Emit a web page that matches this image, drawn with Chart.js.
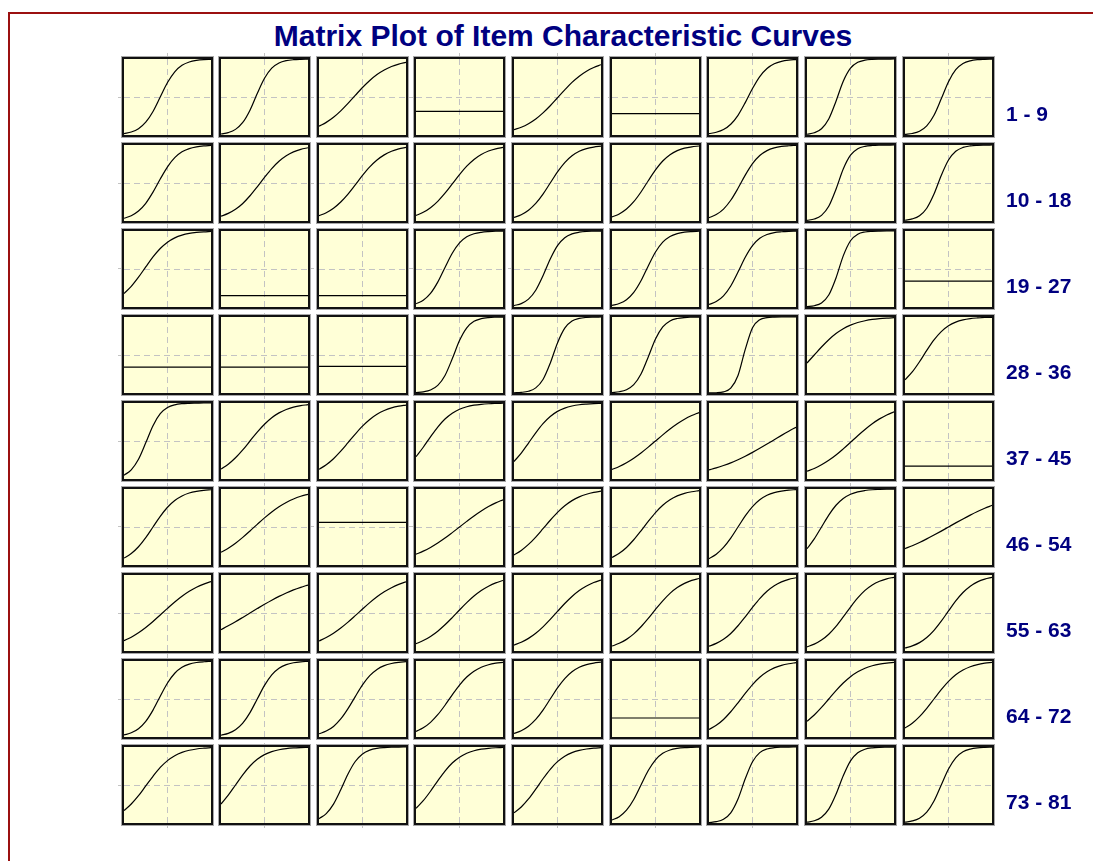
<!DOCTYPE html>
<html>
<head>
<meta charset="utf-8">
<title>Matrix Plot of Item Characteristic Curves</title>
<script src="https://cdn.jsdelivr.net/npm/chart.js@4.4.1/dist/chart.umd.min.js"></script>
<style>
  html, body { margin: 0; padding: 0; background: #fff; }
  body { width: 1093px; height: 861px; position: relative; overflow: hidden;
         font-family: "Liberation Sans", Arial, sans-serif; }
  .frame { position: absolute; left: 8px; top: 12px; width: 1200px; height: 1000px;
           border-top: 2px solid #9b1010; border-left: 2px solid #9b1010; }
  .title { position: absolute; left: 63px; width: 1000px; top: 21px; line-height: 30px;
           text-align: center; font-weight: bold; font-size: 30px; color: #000080; white-space: nowrap; }
  .rowlabel { position: absolute; left: 1006px; font-weight: bold; font-size: 21px; line-height: 21px;
              color: #000080; white-space: nowrap; }
  .panel { position: absolute; width: 91px; height: 80px; box-sizing: border-box;
           border: 2px solid #111; background: #ffffd7; box-shadow: 0 0 0 1px #a8a8a8; }
  .panel canvas { display: block; }
  #gridbg { position: absolute; left: 118px; top: 53px; }
</style>
</head>
<body>
<div class="frame"></div>
<div class="title">Matrix Plot of Item Characteristic Curves</div>
<canvas id="gridbg" width="880" height="775"></canvas>
<div id="matrix"></div>

<script>
const thetaPoints = [-3, -2.5, -2, -1.5, -1, -0.5, 0, 0.5, 1, 1.5, 2, 2.5, 3];

const rowLabels = ['1 - 9', '10 - 18', '19 - 27', '28 - 36', '37 - 45',
                   '46 - 54', '55 - 63', '64 - 72', '73 - 81'];

// probability of a correct answer, one list per item
const icc01to09 = [
  [.018,.039,.083,.168,.310,.500,.690,.832,.917,.961,.982,.992,.996],
  [.013,.032,.074,.165,.327,.545,.746,.879,.947,.978,.991,.996,.998],
  [.115,.166,.233,.318,.416,.521,.625,.718,.796,.856,.901,.933,.955],
  [.31,.31,.31,.31,.31,.31,.31,.31,.31,.31,.31,.31,.31],
  [.070,.102,.149,.211,.291,.385,.490,.594,.692,.774,.840,.889,.925],
  [.28,.28,.28,.28,.28,.28,.28,.28,.28,.28,.28,.28,.28],
  [.017,.036,.072,.142,.259,.426,.611,.769,.875,.937,.969,.985,.993],
  [.010,.029,.082,.211,.445,.707,.879,.956,.985,.995,.998,.999,1.00],
  [.008,.020,.050,.120,.260,.476,.702,.859,.940,.976,.991,.996,.999]
];
const icc10to18 = [
  [.036,.070,.131,.233,.380,.552,.713,.833,.910,.953,.976,.988,.994],
  [.063,.100,.154,.231,.332,.450,.574,.690,.786,.858,.909,.943,.964],
  [.069,.109,.168,.250,.354,.475,.599,.711,.802,.870,.917,.948,.968],
  [.072,.114,.175,.259,.366,.488,.611,.721,.810,.875,.921,.950,.969],
  [.047,.083,.142,.231,.354,.500,.646,.769,.858,.917,.953,.973,.985],
  [.053,.093,.157,.254,.382,.530,.673,.789,.872,.926,.958,.976,.987],
  [.044,.085,.157,.273,.430,.603,.754,.861,.926,.962,.981,.990,.995],
  [.009,.026,.074,.193,.418,.684,.866,.951,.983,.994,.998,.999,1.00],
  [.010,.027,.069,.168,.354,.599,.802,.917,.968,.988,.995,.998,1.00]
];
const icc19to27 = [
  [.177,.271,.392,.527,.659,.770,.853,.910,.946,.968,.981,.989,.994],
  [.15,.15,.15,.15,.15,.15,.15,.15,.15,.15,.15,.15,.15],
  [.15,.15,.15,.15,.15,.15,.15,.15,.15,.15,.15,.15,.15],
  [.042,.089,.179,.327,.520,.707,.843,.923,.964,.983,.992,.997,.998],
  [.019,.045,.103,.221,.411,.632,.808,.912,.962,.984,.994,.997,.999],
  [.021,.046,.096,.192,.345,.540,.723,.853,.928,.966,.985,.993,.997],
  [.034,.072,.147,.277,.460,.655,.808,.904,.954,.979,.990,.996,.998],
  [.005,.017,.053,.157,.382,.673,.872,.958,.987,.996,.999,1.00,1.00],
  [.34,.34,.34,.34,.34,.34,.34,.34,.34,.34,.34,.34,.34]
];
const icc28to36 = [
  [.34,.34,.34,.34,.34,.34,.34,.34,.34,.34,.34,.34,.34],
  [.34,.34,.34,.34,.34,.34,.34,.34,.34,.34,.34,.34,.34],
  [.35,.35,.35,.35,.35,.35,.35,.35,.35,.35,.35,.35,.35],
  [.005,.015,.039,.100,.231,.450,.690,.858,.943,.978,.992,.997,.999],
  [.003,.008,.023,.067,.177,.392,.659,.853,.946,.981,.994,.998,1.00],
  [.006,.016,.043,.109,.250,.475,.711,.870,.948,.980,.993,.997,.999],
  [.001,.003,.015,.063,.231,.574,.858,.964,.992,.998,1.00,1.00,1.00],
  [.395,.500,.605,.701,.782,.846,.893,.928,.951,.968,.979,.986,.991],
  [.174,.277,.411,.560,.698,.808,.885,.933,.962,.979,.988,.994,.996]
];
const icc37to45 = [
  [.050,.120,.260,.476,.702,.859,.940,.976,.991,.996,.998,1.00,1.00],
  [.130,.194,.279,.383,.500,.617,.721,.806,.870,.915,.945,.965,.978],
  [.127,.187,.267,.366,.478,.591,.696,.784,.852,.901,.935,.958,.973],
  [.293,.418,.555,.684,.789,.866,.918,.951,.971,.983,.990,.994,.997],
  [.230,.341,.473,.608,.729,.823,.890,.933,.960,.977,.986,.992,.995],
  [.125,.165,.214,.274,.343,.419,.500,.581,.657,.726,.786,.835,.875],
  [.119,.146,.177,.212,.254,.299,.350,.404,.460,.517,.574,.629,.681],
  [.102,.139,.187,.246,.316,.397,.483,.570,.652,.727,.791,.843,.884],
  [.17,.17,.17,.17,.17,.17,.17,.17,.17,.17,.17,.17,.17]
];
const icc46to54 = [
  [.091,.151,.240,.360,.500,.640,.760,.849,.909,.947,.969,.982,.990],
  [.167,.221,.287,.364,.448,.535,.620,.698,.767,.823,.869,.904,.930],
  [.56,.56,.56,.56,.56,.56,.56,.56,.56,.56,.56,.56,.56],
  [.142,.182,.231,.289,.354,.426,.500,.574,.646,.711,.769,.818,.858],
  [.131,.192,.271,.368,.478,.589,.692,.779,.847,.897,.931,.955,.971],
  [.100,.154,.231,.332,.450,.574,.690,.786,.858,.909,.943,.964,.978],
  [.083,.142,.231,.354,.500,.646,.769,.858,.917,.953,.973,.985,.992],
  [.214,.343,.500,.657,.786,.875,.931,.963,.980,.990,.994,.997,.998],
  [.216,.254,.297,.344,.394,.446,.500,.554,.606,.656,.703,.746,.784]
];
const icc55to63 = [
  [.135,.182,.240,.309,.388,.474,.561,.645,.720,.785,.838,.880,.913],
  [.281,.331,.385,.442,.500,.558,.615,.669,.719,.764,.804,.838,.868],
  [.131,.177,.233,.302,.380,.465,.552,.636,.713,.779,.833,.877,.910],
  [.096,.137,.192,.261,.345,.440,.540,.636,.723,.796,.853,.897,.928],
  [.078,.115,.166,.233,.318,.416,.521,.625,.718,.796,.856,.901,.933],
  [.065,.101,.153,.225,.319,.429,.547,.660,.758,.834,.890,.929,.954],
  [.063,.100,.154,.231,.332,.450,.574,.690,.786,.858,.909,.943,.964],
  [.055,.090,.144,.221,.324,.448,.578,.698,.797,.869,.918,.950,.970],
  [.039,.067,.110,.177,.271,.392,.527,.659,.770,.853,.910,.946,.968]
];
const icc64to72 = [
  [.027,.055,.109,.206,.354,.537,.711,.839,.917,.959,.980,.990,.995],
  [.023,.047,.095,.182,.321,.500,.679,.818,.905,.953,.977,.989,.995],
  [.042,.078,.139,.237,.373,.532,.686,.807,.889,.939,.967,.982,.991],
  [.074,.121,.193,.293,.418,.555,.684,.789,.866,.918,.951,.971,.983],
  [.047,.083,.142,.231,.354,.500,.646,.769,.858,.917,.953,.973,.985],
  [.25,.25,.25,.25,.25,.25,.25,.25,.25,.25,.25,.25,.25],
  [.100,.154,.231,.332,.450,.574,.690,.786,.858,.909,.943,.964,.978],
  [.206,.289,.389,.500,.611,.711,.794,.858,.905,.937,.959,.973,.983],
  [.119,.182,.269,.378,.500,.622,.731,.818,.881,.924,.953,.971,.982]
];
const icc73to81 = [
  [.164,.250,.359,.488,.615,.731,.821,.886,.929,.957,.974,.984,.991],
  [.250,.366,.500,.634,.750,.839,.900,.940,.964,.979,.988,.993,.996],
  [.057,.124,.249,.437,.645,.809,.909,.959,.982,.992,.997,.999,1.00],
  [.193,.293,.418,.555,.684,.789,.866,.918,.951,.971,.983,.990,.994],
  [.134,.211,.316,.445,.582,.707,.807,.879,.926,.956,.974,.985,.991],
  [.039,.083,.168,.310,.500,.690,.832,.917,.961,.982,.992,.996,.998],
  [.006,.017,.049,.134,.316,.582,.807,.926,.974,.991,.997,.999,1.00],
  [.011,.029,.076,.182,.378,.622,.818,.924,.971,.989,.996,.998,.999],
  [.011,.027,.063,.142,.289,.500,.711,.858,.937,.973,.989,.995,.998]
];

const iccRows = [icc01to09, icc10to18, icc19to27, icc28to36, icc37to45,
                 icc46to54, icc55to63, icc64to72, icc73to81];

// layout of the matrix (page pixels)
const LEFT0 = 121.7, COL_STEP = 97.6;
const TOP0 = 56.7, ROW_STEP = 86;
const PANEL_W = 91, PANEL_H = 80, BORDER = 2;
const GRID_COLOR = '#c3c3c3';
const GRID_DASH = [6, 4];

function onlyTick(v) {
  return scale => { scale.ticks = [{ value: v }]; };
}

const matrix = document.getElementById('matrix');
const colLefts = [], rowTops = [];
for (let c = 0; c < 9; c++) colLefts.push(Math.round(LEFT0 + c * COL_STEP));
for (let r = 0; r < 9; r++) rowTops.push(Math.round(TOP0 + r * ROW_STEP));

// dashed guide lines running through the whole matrix
const bgLeft = 118, bgTop = 53, bgW = 880, bgH = 775;
new Chart(document.getElementById('gridbg'), {
  type: 'scatter',
  data: { datasets: [] },
  options: {
    responsive: false, animation: false, devicePixelRatio: 1,
    events: [],
    layout: { padding: 0 },
    plugins: { legend: { display: false }, tooltip: { enabled: false } },
    scales: {
      x: {
        type: 'linear', min: bgLeft, max: bgLeft + bgW,
        afterBuildTicks: s => { s.ticks = colLefts.map(l => ({ value: l + PANEL_W / 2 })); },
        ticks: { display: false },
        grid: { color: GRID_COLOR, lineWidth: 1, drawTicks: false },
        border: { display: false, dash: GRID_DASH }
      },
      y: {
        type: 'linear', min: bgTop, max: bgTop + bgH, reverse: true,
        afterBuildTicks: s => { s.ticks = rowTops.map(t => ({ value: t + PANEL_H / 2 })); },
        ticks: { display: false },
        grid: { color: GRID_COLOR, lineWidth: 1, drawTicks: false },
        border: { display: false, dash: GRID_DASH }
      }
    }
  }
});

iccRows.forEach((rowItems, r) => {
  rowItems.forEach((probs, c) => {
    const panel = document.createElement('div');
    panel.className = 'panel';
    panel.style.left = colLefts[c] + 'px';
    panel.style.top = rowTops[r] + 'px';
    const cv = document.createElement('canvas');
    cv.width = PANEL_W - 2 * BORDER;
    cv.height = PANEL_H - 2 * BORDER;
    panel.appendChild(cv);
    matrix.appendChild(panel);

    new Chart(cv, {
      type: 'line',
      data: {
        datasets: [{
          data: thetaPoints.map((t, i) => ({ x: t, y: probs[i] })),
          borderColor: '#000',
          borderWidth: 1.2,
          pointRadius: 0,
          cubicInterpolationMode: 'monotone',
          fill: false
        }]
      },
      options: {
        responsive: false, animation: false, devicePixelRatio: 1,
        events: [],
        layout: { padding: 0 },
        plugins: { legend: { display: false }, tooltip: { enabled: false } },
        scales: {
          x: {
            type: 'linear', min: -3, max: 3,
            afterBuildTicks: onlyTick(0),
            ticks: { display: false },
            grid: { color: GRID_COLOR, lineWidth: 1, drawTicks: false },
            border: { display: false, dash: GRID_DASH }
          },
          y: {
            type: 'linear', min: 0, max: 1,
            afterBuildTicks: onlyTick(0.5),
            ticks: { display: false },
            grid: { color: GRID_COLOR, lineWidth: 1, drawTicks: false },
            border: { display: false, dash: GRID_DASH }
          }
        }
      }
    });
  });

  const lab = document.createElement('div');
  lab.className = 'rowlabel';
  lab.textContent = rowLabels[r];
  lab.style.top = (rowTops[r] + 45.5) + 'px';
  matrix.appendChild(lab);
});
</script>
</body>
</html>
